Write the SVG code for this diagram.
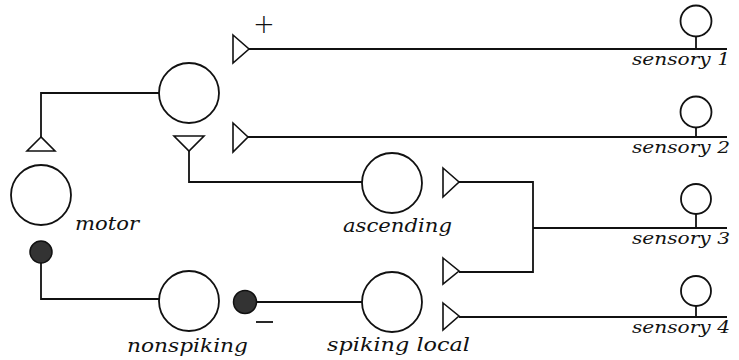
<svg xmlns="http://www.w3.org/2000/svg" width="739" height="360" viewBox="0 0 739 360">
<style>
.n{fill:#fff;stroke:#111;stroke-width:1.8}
.l{fill:none;stroke:#111;stroke-width:1.8}
.s{fill:#fff;stroke:#111;stroke-width:1.6;stroke-linejoin:miter}
.d{fill:#333;stroke:#111;stroke-width:1.5}
.t{font-family:"DejaVu Serif","Liberation Serif",serif;font-style:italic;font-size:18px;fill:#111}
.ts{font-family:"DejaVu Serif","Liberation Serif",serif;font-style:italic;font-size:16.5px;fill:#111}
</style>
<rect width="739" height="360" fill="#fff"/>
<g id="connectors">
<polyline class="l" points="159,93 41,93 41,137"/>
<polyline class="l" points="189,151 189,182 362,182"/>
<polyline class="l" points="41,263 41,299 159,299"/>
<line class="l" x1="256" y1="302" x2="362" y2="302"/>
<line class="l" x1="249" y1="49" x2="727" y2="49"/>
<line class="l" x1="248" y1="137" x2="727" y2="137"/>
<polyline class="l" points="459,182 533,182 533,272 459,272"/>
<line class="l" x1="533" y1="228" x2="727" y2="228"/>
<line class="l" x1="459" y1="317" x2="727" y2="317"/>
<line class="l" x1="696" y1="37" x2="696" y2="49"/>
<line class="l" x1="696" y1="128" x2="696" y2="137"/>
<line class="l" x1="696" y1="214" x2="696" y2="228"/>
<line class="l" x1="696" y1="306" x2="696" y2="317"/>
<polygon class="s" points="41,137 27,151 55,151"/>
<polygon class="s" points="174,136 204,136 189,151"/>
<polygon class="s" points="233,35 249,49 233,63"/>
<polygon class="s" points="233,123 248,137 233,152"/>
<polygon class="s" points="443,168 459,182 443,197"/>
<polygon class="s" points="443,258 459,271 443,284"/>
<polygon class="s" points="443,303 459,316 443,330"/>
<circle class="d" cx="41" cy="252" r="11"/>
<circle class="d" cx="245" cy="302" r="11.5"/>
<text x="264" y="33" text-anchor="middle" style="font-family:'DejaVu Sans',sans-serif;font-size:26px;font-weight:300;fill:#111">+</text>
<line class="l" x1="256" y1="322" x2="273" y2="322"/>
</g>
<g id="interneuron"><circle class="n" cx="189" cy="93" r="30"/></g>
<g id="motor"><circle class="n" cx="41" cy="195" r="30"/><text class="t" x="75" y="230" textLength="64" lengthAdjust="spacingAndGlyphs">motor</text></g>
<g id="nonspiking"><circle class="n" cx="189" cy="301" r="30"/><text class="t" x="127" y="352" textLength="121" lengthAdjust="spacingAndGlyphs">nonspiking</text></g>
<g id="ascending"><circle class="n" cx="392" cy="183" r="30"/><text class="t" x="343" y="232" textLength="109" lengthAdjust="spacingAndGlyphs">ascending</text></g>
<g id="spiking-local"><circle class="n" cx="392" cy="302" r="30"/><text class="t" x="327" y="351" textLength="143" lengthAdjust="spacingAndGlyphs">spiking local</text></g>
<g id="sensory1"><circle class="n" cx="696" cy="21" r="15.5"/><text class="ts" x="632" y="65" textLength="98" lengthAdjust="spacingAndGlyphs">sensory 1</text></g>
<g id="sensory2"><circle class="n" cx="696" cy="112" r="15.5"/><text class="ts" x="632" y="153" textLength="98" lengthAdjust="spacingAndGlyphs">sensory 2</text></g>
<g id="sensory3"><circle class="n" cx="696" cy="199" r="15"/><text class="ts" x="632" y="244" textLength="98" lengthAdjust="spacingAndGlyphs">sensory 3</text></g>
<g id="sensory4"><circle class="n" cx="696" cy="291" r="15"/><text class="ts" x="632" y="333" textLength="98" lengthAdjust="spacingAndGlyphs">sensory 4</text></g>
</svg>
